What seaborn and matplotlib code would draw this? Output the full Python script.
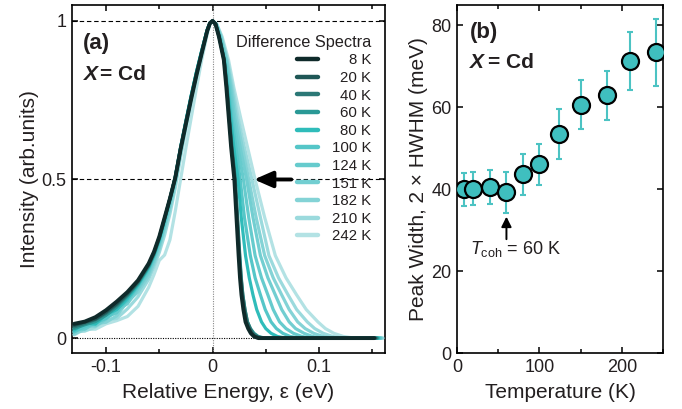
import numpy as np
import pandas as pd
import matplotlib
matplotlib.use("Agg")
import matplotlib.pyplot as plt
import seaborn as sns
from matplotlib.lines import Line2D
from matplotlib.ticker import MultipleLocator

sns.set_theme(style="ticks")
plt.rcParams['font.family'] = ['Liberation Sans', 'DejaVu Sans']
plt.rcParams['mathtext.fontset'] = 'custom'
plt.rcParams['mathtext.rm'] = 'Liberation Sans'
plt.rcParams['mathtext.it'] = 'Liberation Sans:italic'
plt.rcParams['mathtext.bf'] = 'Liberation Sans:bold'

# ---------------- data ----------------
TEMPS = [8, 20, 40, 60, 80, 100, 124, 151, 182, 210, 242]
LABELS = ["8 K", "20 K", "40 K", "60 K", "80 K", "100 K", "124 K", "151 K", "182 K", "210 K", "242 K"]
COLORS = ["#0f2a2a", "#1f5756", "#2b7876", "#2a9996", "#2fbcba", "#55c6c8", "#66cbcd",
          "#72ced1", "#84d3d6", "#9bdadd", "#b3e2e4"]

# left flank: common energy grid (eV), intensity per temperature
LEFT_E = [-0.13, -0.12, -0.11, -0.10, -0.09, -0.08, -0.07, -0.06, -0.055, -0.05,
          -0.045, -0.04, -0.035, -0.03, -0.025, -0.02, -0.015, -0.01, -0.005, -0.0025]
LEFT_I_8 = [0.045, 0.052, 0.066, 0.088, 0.115, 0.145, 0.182, 0.235, 0.272, 0.320, 0.380, 0.440, 0.505, 0.595, 0.675, 0.755, 0.830, 0.900, 0.968, 0.992]
LEFT_I_20 = [0.040, 0.050, 0.060, 0.082, 0.108, 0.140, 0.178, 0.232, 0.270, 0.318, 0.378, 0.440, 0.505, 0.596, 0.678, 0.758, 0.833, 0.902, 0.969, 0.992]
LEFT_I_40 = [0.035, 0.046, 0.058, 0.078, 0.104, 0.136, 0.175, 0.228, 0.266, 0.315, 0.376, 0.440, 0.507, 0.598, 0.680, 0.760, 0.835, 0.904, 0.970, 0.993]
LEFT_I_60 = [0.030, 0.042, 0.052, 0.072, 0.098, 0.132, 0.172, 0.226, 0.264, 0.313, 0.375, 0.440, 0.508, 0.600, 0.682, 0.763, 0.838, 0.906, 0.971, 0.993]
LEFT_I_80 = [0.025, 0.048, 0.044, 0.075, 0.090, 0.125, 0.168, 0.222, 0.261, 0.310, 0.372, 0.438, 0.508, 0.602, 0.685, 0.765, 0.840, 0.908, 0.972, 0.993]
LEFT_I_100 = [0.020, 0.036, 0.048, 0.062, 0.092, 0.118, 0.165, 0.218, 0.258, 0.306, 0.368, 0.435, 0.506, 0.600, 0.684, 0.765, 0.840, 0.908, 0.972, 0.993]
LEFT_I_124 = [0.030, 0.028, 0.050, 0.066, 0.080, 0.122, 0.160, 0.212, 0.252, 0.300, 0.362, 0.430, 0.502, 0.596, 0.681, 0.763, 0.839, 0.907, 0.971, 0.993]
LEFT_I_151 = [0.018, 0.040, 0.038, 0.060, 0.088, 0.108, 0.155, 0.205, 0.245, 0.292, 0.354, 0.422, 0.496, 0.590, 0.677, 0.760, 0.836, 0.905, 0.970, 0.992]
LEFT_I_182 = [0.012, 0.030, 0.045, 0.050, 0.070, 0.115, 0.145, 0.195, 0.236, 0.282, 0.342, 0.410, 0.488, 0.583, 0.671, 0.755, 0.832, 0.902, 0.968, 0.992]
LEFT_I_210 = [0.020, 0.022, 0.035, 0.058, 0.062, 0.092, 0.130, 0.185, 0.225, 0.270, 0.325, 0.392, 0.473, 0.570, 0.660, 0.747, 0.826, 0.898, 0.966, 0.991]
LEFT_I_242 = [0.010, 0.028, 0.028, 0.045, 0.055, 0.068, 0.100, 0.160, 0.200, 0.245, 0.262, 0.310, 0.400, 0.500, 0.600, 0.695, 0.790, 0.880, 0.958, 0.989]

# right flank: common intensity levels, energy (eV) per temperature
RIGHT_I = [1.0, 0.99, 0.95, 0.877, 0.79, 0.693, 0.6, 0.5, 0.38, 0.26, 0.19, 0.136, 0.09, 0.051, 0.03, 0.015, 0.005, 0.0]
RIGHT_E_8 = [0.0, 0.0028, 0.006, 0.0106, 0.013, 0.0153, 0.0175, 0.0205, 0.0225, 0.0245, 0.0258, 0.0272, 0.029, 0.031, 0.0335, 0.036, 0.039, 0.043]
RIGHT_E_20 = [0.0, 0.0029, 0.0062, 0.0108, 0.0133, 0.0156, 0.0179, 0.0209, 0.0230, 0.0250, 0.0264, 0.0278, 0.0297, 0.0318, 0.0344, 0.037, 0.040, 0.045]
RIGHT_E_40 = [0.0, 0.0029, 0.0063, 0.011, 0.0136, 0.016, 0.0183, 0.0213, 0.0235, 0.0256, 0.027, 0.0285, 0.0305, 0.0328, 0.0355, 0.038, 0.042, 0.047]
RIGHT_E_60 = [0.0, 0.0029, 0.0062, 0.0109, 0.0135, 0.0158, 0.0181, 0.0211, 0.0233, 0.0254, 0.0268, 0.0284, 0.0304, 0.0328, 0.0356, 0.039, 0.043, 0.049]
RIGHT_E_80 = [0.0, 0.003, 0.0065, 0.011, 0.014, 0.017, 0.020, 0.024, 0.027, 0.031, 0.0345, 0.038, 0.0415, 0.046, 0.050, 0.055, 0.061, 0.069]
RIGHT_E_100 = [0.0, 0.0031, 0.0068, 0.0115, 0.015, 0.018, 0.022, 0.026, 0.030, 0.0355, 0.040, 0.045, 0.0495, 0.055, 0.060, 0.066, 0.073, 0.082]
RIGHT_E_124 = [0.0, 0.0032, 0.007, 0.012, 0.016, 0.0195, 0.024, 0.029, 0.034, 0.040, 0.046, 0.052, 0.057, 0.063, 0.069, 0.076, 0.084, 0.093]
RIGHT_E_151 = [0.0, 0.0034, 0.0075, 0.013, 0.017, 0.021, 0.026, 0.032, 0.038, 0.045, 0.052, 0.059, 0.065, 0.072, 0.078, 0.086, 0.094, 0.103]
RIGHT_E_182 = [0.0, 0.0036, 0.008, 0.0135, 0.018, 0.0225, 0.028, 0.034, 0.041, 0.049, 0.057, 0.065, 0.072, 0.080, 0.087, 0.095, 0.104, 0.113]
RIGHT_E_210 = [0.0, 0.0038, 0.0085, 0.014, 0.019, 0.024, 0.030, 0.037, 0.045, 0.053, 0.062, 0.071, 0.079, 0.089, 0.096, 0.104, 0.113, 0.123]
RIGHT_E_242 = [0.0, 0.004, 0.009, 0.015, 0.020, 0.0265, 0.033, 0.040, 0.049, 0.059, 0.069, 0.079, 0.088, 0.099, 0.106, 0.114, 0.123, 0.133]
END_E = [0.152, 0.153, 0.154, 0.155, 0.156, 0.157, 0.158, 0.158, 0.159, 0.160, 0.160]

LEFT_I = [LEFT_I_8, LEFT_I_20, LEFT_I_40, LEFT_I_60, LEFT_I_80, LEFT_I_100,
          LEFT_I_124, LEFT_I_151, LEFT_I_182, LEFT_I_210, LEFT_I_242]
RIGHT_E = [RIGHT_E_8, RIGHT_E_20, RIGHT_E_40, RIGHT_E_60, RIGHT_E_80, RIGHT_E_100,
           RIGHT_E_124, RIGHT_E_151, RIGHT_E_182, RIGHT_E_210, RIGHT_E_242]

# panel (b)
T_POINTS = [8, 20, 40, 60, 80, 100, 124, 151, 182, 210, 242]
WIDTH = [40.0, 40.1, 40.5, 39.3, 43.7, 46.1, 53.5, 60.6, 63.0, 71.3, 73.5]
WIDTH_ERR = [4.0, 4.0, 4.2, 5.0, 5.0, 5.0, 6.0, 6.0, 6.0, 7.0, 8.2]

# ---------------- figure ----------------
fig = plt.figure(figsize=(6.82, 4.09), dpi=100)
ax1 = fig.add_axes([72/682, 56/409, 313/682, 348/409])
ax2 = fig.add_axes([457/682, 56/409, 206/682, 348/409])

# reference lines
ax1.axhline(1.0, color="black", lw=0.8, ls=(0, (4, 2.5)), zorder=1)
ax1.axhline(0.5, color="black", lw=0.8, ls=(0, (4, 2.5)), zorder=1)
ax1.axhline(0.0, color="black", lw=0.8, ls=(0, (1, 1.2)), zorder=1)
ax1.axvline(0.0, color="#888888", lw=0.8, ls=(0, (1, 1.2)), zorder=1)

rows = []
for k, t in enumerate(TEMPS):
    e = LEFT_E + RIGHT_E[k] + [END_E[k]]
    i = LEFT_I[k] + RIGHT_I + [0.0]
    for ee, ii in zip(e, i):
        rows.append({"T": t, "E": ee, "I": ii})
df = pd.DataFrame(rows)

for k in reversed(range(len(TEMPS))):
    sub = df[df["T"] == TEMPS[k]]
    sns.lineplot(data=sub, x="E", y="I", color=COLORS[k], lw=2.3 if k else 2.8,
                 sort=False, estimator=None, ax=ax1, legend=False, zorder=3 + (10 - k),
                 solid_joinstyle="round", solid_capstyle="round")

ax1.set_xlim(-0.132, 0.162)
ax1.set_ylim(-0.047, 1.05)
ax1.xaxis.set_major_locator(MultipleLocator(0.1))
ax1.xaxis.set_minor_locator(MultipleLocator(0.05))
ax1.set_yticks([0, 0.5, 1])
ax1.set_yticklabels(["0", "0.5", "1"])
ax1.set_xticks([-0.1, 0, 0.1])
ax1.set_xticklabels(["-0.1", "0", "0.1"])
ax1.set_xlabel("Relative Energy, ε (eV)", fontsize=15, labelpad=5)
ax1.set_ylabel("Intensity (arb.units)", fontsize=15, labelpad=2)

ax1.annotate("", xy=(0.039, 0.5), xytext=(0.074, 0.5),
             arrowprops=dict(arrowstyle="-|>,head_length=0.8,head_width=0.35",
                             color="black", lw=2.8, mutation_scale=14, shrinkA=0, shrinkB=0),
             zorder=20)

handles = [Line2D([], [], color=c, lw=3.2) for c in COLORS]
leg = ax1.legend(handles, LABELS, title="Difference Spectra", loc="upper right",
                 bbox_to_anchor=(0.985, 0.94), frameon=False, fontsize=10.8,
                 title_fontsize=11.7, handlelength=1.45, handletextpad=0.9,
                 labelspacing=0.24, borderaxespad=0.2, alignment="right")
fig.canvas.draw()
renderer = fig.canvas.get_renderer()
widths = [t.get_window_extent(renderer).width for t in leg.get_texts()]
maxw = max(widths)
for t, w in zip(leg.get_texts(), widths):
    t.set_position((maxw - w, 0))
for t in leg.get_texts() + [leg.get_title()]:
    t.set_color("#231f20")

ax1.text(0.035, 0.89, "(a)", transform=ax1.transAxes, fontsize=16, fontweight="bold",
         va="center", ha="left", color="#231f20")
ax1.text(0.037, 0.80, "X", transform=ax1.transAxes, fontsize=15, fontweight="bold",
         fontstyle="italic", va="center", ha="left", color="#231f20")
ax1.text(0.089, 0.80, "= Cd", transform=ax1.transAxes, fontsize=15, fontweight="bold",
         va="center", ha="left", color="#231f20")

# panel (b)
ax2.errorbar(T_POINTS, WIDTH, yerr=WIDTH_ERR, fmt="none", ecolor="#4cc3c3",
             elinewidth=1.5, capsize=2.5, capthick=1.5, zorder=2)
sns.scatterplot(x=T_POINTS, y=WIDTH, ax=ax2, s=150, color="#3fbfbf",
                edgecolor="black", linewidth=1.6, zorder=3, legend=False)
ax2.set_xlim(0, 250)
ax2.set_ylim(0, 85)
ax2.xaxis.set_major_locator(MultipleLocator(100))
ax2.xaxis.set_minor_locator(MultipleLocator(50))
ax2.set_yticks([0, 20, 40, 60, 80])
ax2.set_xlabel("Temperature (K)", fontsize=15, labelpad=5)
ax2.set_ylabel("Peak Width, 2 × HWHM (meV)", fontsize=15, labelpad=2)

ax2.annotate("", xy=(60, 33.3), xytext=(60, 27.8),
             arrowprops=dict(arrowstyle="-|>,head_length=0.5,head_width=0.25",
                             color="black", lw=1.4, mutation_scale=12, shrinkA=0, shrinkB=0))
ax2.text(15.5, 25.5, r"$T_{\rm coh}$ = 60 K", fontsize=13, va="center", ha="left",
         color="#231f20")
ax2.text(0.063, 0.922, "(b)", transform=ax2.transAxes, fontsize=16, fontweight="bold",
         va="center", ha="left", color="#231f20")
ax2.text(0.065, 0.836, "X", transform=ax2.transAxes, fontsize=15, fontweight="bold",
         fontstyle="italic", va="center", ha="left", color="#231f20")
ax2.text(0.15, 0.836, "= Cd", transform=ax2.transAxes, fontsize=15, fontweight="bold",
         va="center", ha="left", color="#231f20")

for ax in (ax1, ax2):
    for sp in ax.spines.values():
        sp.set_visible(True)
        sp.set_linewidth(1.2)
        sp.set_color("black")
    ax.tick_params(which="both", direction="in", top=True, right=True, width=1.1,
                   labelsize=13, colors="black")
    ax.tick_params(axis="both", labelcolor="#231f20")
    ax.tick_params(which="major", length=4.5, pad=4)
    ax.tick_params(which="minor", length=3)
    ax.xaxis.label.set_color("#231f20")
    ax.yaxis.label.set_color("#231f20")

fig.savefig("out.png", dpi=100)
